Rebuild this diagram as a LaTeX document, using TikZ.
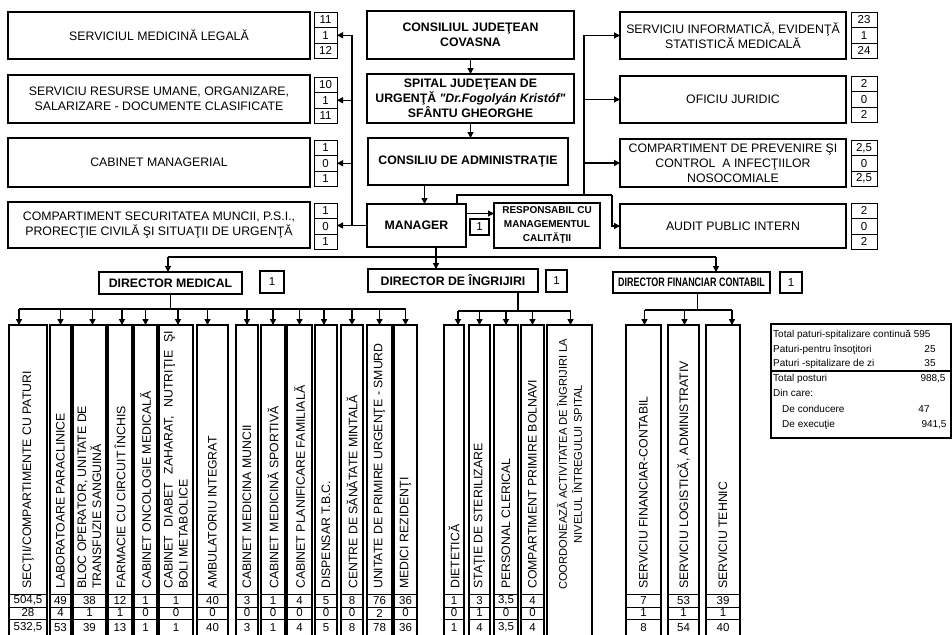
\documentclass[tikz,border=0pt]{standalone}
\usepackage{fontspec}
\usepackage{graphicx}
\setmainfont{Liberation Sans}
\usetikzlibrary{arrows.meta,calc}
\newcommand{\fontMain}{\fontsize{12.3}{15}\selectfont}
\newcommand{\fontNum}{\fontsize{11.5}{12}\selectfont}
\newcommand{\fontSmallB}{\fontsize{10}{14}\selectfont\bfseries}
\newcommand{\fontTab}{\fontsize{10}{12}\selectfont}
\tikzset{
  bx/.style={draw, line width=2pt, inner sep=1pt, outer sep=0pt, align=center, font=\fontMain},
  bxb/.style={bx, font=\fontMain\bfseries},
  bxs/.style={bx, font=\fontSmallB},
  cell/.style={draw, line width=0.9pt, inner sep=0pt, outer sep=0pt, font=\fontNum},
  cellb/.style={cell, line width=1.3pt},
  col/.style={draw, line width=1.6pt, inner sep=0pt, outer sep=0pt},
  rot/.style={rotate=90, anchor=west, align=left, inner sep=0pt, font=\fontMain},
  tx/.style={inner sep=0pt, font=\fontTab},
  ln/.style={line width=1.4pt},
  arr/.style={line width=1.4pt, -{Triangle[length=6pt,width=6pt]}},
}
% \rbox{name}{x1}{y1}{x2}{y2}{style}{text}
\newcommand{\rbox}[7]{\node[#6, minimum width={((#4)-(#2))*1pt}, minimum height={((#5)-(#3))*1pt}] (#1) at ({((#2)+(#4))/2},{((#3)+(#5))/2}) {#7};}
% \trio{name}{x1}{x2}{y0}{a}{b}{c}
\newcommand{\trio}[7]{%
  \rbox{#1a}{#2}{#4}{#3}{(#4)+15.5}{cell}{#5}
  \rbox{#1b}{#2}{(#4)+15.5}{#3}{(#4)+31}{cell}{#6}
  \rbox{#1c}{#2}{(#4)+31}{#3}{(#4)+46}{cell}{#7}}
% \mcol{name}{x1}{x2}{text}{a}{b}{c}
\newcommand{\mcol}[7]{%
  \rbox{#1}{#2}{325}{#3}{645}{col}{}
  \node[rot] (#1t) at ({((#2)+(#3))/2},589) {#4};
  \rbox{#1a}{#2}{594}{#3}{607}{cell}{#5}
  \rbox{#1b}{#2}{607}{#3}{619}{cell}{#6}
  \rbox{#1c}{#2}{619}{#3}{636}{cell}{#7}}
\newcommand{\drop}[3]{\draw[arr] ([xshift=#3]#1.north |- #2) -- ([xshift=#3]#1.north);}
\begin{document}
\begin{tikzpicture}[x=1pt,y=-1pt]
\useasboundingbox (0,0) rectangle (952,634);
\clip (0,0) rectangle (952,634);
\fill[white] (0,0) rectangle (952,634);

% ---------- left boxes
\rbox{L1}{8}{12}{310}{59}{bx}{SERVICIUL MEDICINĂ LEGALĂ}
\trio{L1}{314}{337}{12}{11}{1}{12}
\rbox{L2}{8}{75}{310}{123}{bx}{SERVICIU RESURSE UMANE, ORGANIZARE,\\SALARIZARE - DOCUMENTE CLASIFICATE}
\trio{L2}{314}{337}{77}{10}{1}{11}
\rbox{L3}{8}{138}{310}{187}{bx}{CABINET MANAGERIAL}
\trio{L3}{314}{337}{140}{1}{0}{1}
\rbox{L4}{8}{202}{310}{248}{bx}{COMPARTIMENT SECURITATEA MUNCII, P.S.I.,\\PRORECŢIE CIVILĂ ŞI SITUAŢII DE URGENŢĂ}
\trio{L4}{314}{337}{203}{1}{0}{1}

% ---------- centre
\rbox{cjc}{367}{11}{574}{59}{bxb}{CONSILIUL JUDEŢEAN\\COVASNA}
\rbox{spt}{367}{74}{574}{123}{bxb}{SPITAL JUDEŢEAN DE\\URGENŢĂ \textit{\textquotedbl Dr.Fogolyán Kristóf\textquotedbl}\\SFÂNTU GHEORGHE}
\rbox{cda}{368}{138}{568}{185}{bxb}{CONSILIU DE ADMINISTRAŢIE}
\rbox{mgr}{367}{204}{466}{247}{bxb}{MANAGER}
\rbox{resp}{494}{203}{600}{248}{bxs}{RESPONSABIL CU\\MANAGEMENTUL\\CALITĂŢII}
\rbox{resp1}{470}{219}{489}{235}{cellb}{1}

% ---------- right boxes
\rbox{R1}{620}{12}{846}{59}{bx}{SERVICIU INFORMATICĂ, EVIDENŢĂ\\STATISTICĂ MEDICALĂ}
\trio{R1}{851}{877}{12}{23}{1}{24}
\rbox{R2}{620}{76}{846}{123}{bx}{OFICIU JURIDIC}
\trio{R2}{851}{877}{76}{2}{0}{2}
\rbox{R3}{620}{139}{846}{187}{bx}{COMPARTIMENT DE PREVENIRE ŞI\\CONTROL\ \ A INFECŢIILOR\\NOSOCOMIALE}
\trio{R3}{851}{877}{140}{2,5}{0}{2,5}
\rbox{R4}{620}{204}{846}{248}{bx}{AUDIT PUBLIC INTERN}
\trio{R4}{851}{877}{203}{2}{0}{2}

% ---------- connectors top
\draw[arr] (cjc.south) -- (spt.north);
\draw[arr] (spt.south) -- (spt.south |- cda.north);
\draw[arr] ([xshift=8]mgr.north |- cda.south) -- ([xshift=8]mgr.north);
\draw[arr] ([yshift=12]mgr.east) -- ([yshift=12]mgr.east -| resp.west);

\coordinate (lbus) at (352,0);
\draw[arr] (mgr.west) -- (mgr.west -| L4b.east);
\draw[ln] (lbus |- mgr.west) -- (lbus |- L1b.east);
\draw[arr] (lbus |- L1b.east) -- (L1b.east);
\draw[arr] (lbus |- L2b.east) -- (L2b.east);
\draw[arr] (lbus |- L3b.east) -- (L3b.east);

\coordinate (tee) at (457,195);
\coordinate (rc) at (612,195);
\coordinate (rbus) at (584,195);
\draw[ln] (mgr.north -| tee) -- (tee) -- (rc);
\draw[arr] (rc) |- (R4.west);
\draw[ln] (rbus) -- (rbus |- R1.west);
\draw[arr] (rbus |- R1.west) -- (R1.west);
\draw[arr] (rbus |- R2.west) -- (R2.west);
\draw[arr] (rbus |- R3.west) -- (R3.west);

% ---------- directors
\rbox{dm}{99}{272}{242}{294}{bxb}{DIRECTOR MEDICAL}
\rbox{dm1}{260}{271}{284}{293}{cellb}{1}
\rbox{dmi}{368}{269}{538}{292}{bxb}{DIRECTOR DE ÎNGRIJIRI}
\rbox{dmi1}{546}{270}{567}{292}{cellb}{1}
\rbox{df}{613}{272}{770}{293}{bxb}{\scalebox{0.73}[1]{DIRECTOR FINANCIAR CONTABIL}}
\rbox{df1}{780}{272}{802}{293}{cellb}{1}

\coordinate (b1) at (168,257);
\coordinate (b2) at (436,257);
\coordinate (b3) at (716,257);
\draw[ln] (b1) -- (b3);
\draw[arr] (b1) -- (b1 |- dm.north);
\draw[arr] (mgr.south -| b2) -- (b2 |- dmi.north);
\draw[arr] (b3) -- (b3 |- df.north);

% ---------- medical columns
\mcol{m1}{9}{47}{SECŢII/COMPARTIMENTE CU PATURI}{504,5}{28}{532,5}
\mcol{m2}{50}{71}{LABORATOARE PARACLINICE}{49}{4}{53}
\mcol{m3}{73}{106}{BLOC OPERATOR, UNITATE DE\\TRANSFUZIE SANGUINĂ}{38}{1}{39}
\mcol{m4}{108}{132}{FARMACIE CU CIRCUIT ÎNCHIS}{12}{1}{13}
\mcol{m5}{134}{157}{CABINET ONCOLOGIE MEDICALĂ}{1}{0}{1}
\mcol{m6}{159}{193}{\makebox[258pt][s]{CABINET DIABET ZAHARAT, NUTRIŢIE ŞI}\\BOLI METABOLICE}{1}{0}{1}
\mcol{m7}{197}{228}{AMBULATORIU INTEGRAT}{40}{0}{40}
\mcol{m8}{236}{258}{CABINET MEDICINA MUNCII}{3}{0}{3}
\mcol{m9}{261}{285}{CABINET MEDICINĂ SPORTIVĂ}{1}{0}{1}
\mcol{m10}{287}{312}{CABINET PLANIFICARE FAMILIALĂ}{4}{0}{4}
\mcol{m11}{315}{337}{DISPENSAR T.B.C.}{5}{0}{5}
\mcol{m12}{341}{363}{CENTRE DE SĂNĂTATE MINTALĂ}{8}{0}{8}
\mcol{m13}{367}{392}{UNITATE DE PRIMIRE URGENŢE - SMURD}{76}{2}{78}
\mcol{m14}{394}{417}{MEDICI REZIDENŢI}{36}{0}{36}

\coordinate (mb) at (0,309);
\draw[ln] (dm.south) -- (dm.south |- mb);
\draw[ln] ([xshift=-9]m1.north |- mb) -- (m14.north |- mb);
\drop{m1}{mb}{-9}
\drop{m2}{mb}{0}
\drop{m3}{mb}{3}
\drop{m4}{mb}{2}
\drop{m5}{mb}{0}
\drop{m6}{mb}{2}
\drop{m7}{mb}{-5}
\drop{m8}{mb}{0}
\drop{m9}{mb}{0}
\drop{m10}{mb}{0}
\drop{m11}{mb}{-2}
\drop{m12}{mb}{0}
\drop{m13}{mb}{0}
\drop{m14}{mb}{0}

% ---------- nursing columns
\mcol{n1}{444}{464}{DIETETICĂ}{1}{0}{1}
\mcol{n2}{469}{490}{STAŢIE DE STERILIZARE}{3}{1}{4}
\mcol{n3}{494}{518}{PERSONAL CLERICAL}{3,5}{0}{3,5}
\mcol{n4}{521}{544}{COMPARTIMENT PRIMIRE BOLNAVI}{4}{0}{4}
\rbox{n5}{547}{325}{592}{645}{col}{}
\node[rot, align=center, font=\fontsize{11.2}{15}\selectfont] (n5t) at (569.5,590) {COORDONEAZĂ ACTIVITATEA DE ÎNGRIJIRI LA\\NIVELUL ÎNTREGULUI SPITAL};

\coordinate (nb) at (0,311);
\draw[ln] ([xshift=65]dmi.south) -- ([xshift=65]dmi.south |- nb);
\draw[ln] ([xshift=4]n1.north |- nb) -- ([xshift=1]n5.north |- nb);
\drop{n1}{nb}{4}
\drop{n2}{nb}{0}
\drop{n3}{nb}{0}
\drop{n4}{nb}{0}
\drop{n5}{nb}{1}

% ---------- financial columns
\mcol{f1}{626}{661}{SERVICIU FINANCIAR-CONTABIL}{7}{1}{8}
\mcol{f2}{668}{699}{SERVICIU LOGISTICĂ, ADMINISTRATIV}{53}{1}{54}
\mcol{f3}{706}{740}{SERVICIU TEHNIC}{39}{1}{40}

\coordinate (fb) at (0,310);
\draw[ln] ([xshift=6]df.south) -- ([xshift=6]df.south |- fb);
\draw[ln] ([xshift=1]f1.north |- fb) -- ([xshift=9]f3.north |- fb);
\drop{f1}{fb}{1}
\drop{f2}{fb}{1}
\drop{f3}{fb}{9}

% ---------- summary table
\rbox{tbl}{771}{324}{951}{438}{bx}{}
\draw[line width=2pt] (tbl.west |- 0,371) -- (tbl.east |- 0,371);
\node[tx, anchor=base west] (t1) at (773,337) {Total paturi-spitalizare continuă 595};
\node[tx, anchor=base west] (t2) at (773,352) {Paturi-pentru însoţitori};
\node[tx, anchor=base] (t2n) at (930,352) {25};
\node[tx, anchor=base west] (t3) at (773,366) {Paturi -spitalizare de zi};
\node[tx, anchor=base] (t3n) at (930,366) {35};
\node[tx, anchor=base west] (t4) at (773,381) {Total posturi};
\node[tx, anchor=base] (t4n) at (933,381) {988,5};
\node[tx, anchor=base west] (t5) at (773,396) {Din care:};
\node[tx, anchor=base west] (t6) at (782,412) {De conducere};
\node[tx, anchor=base] (t6n) at (924,412) {47};
\node[tx, anchor=base west] (t7) at (782,427) {De execuţie};
\node[tx, anchor=base] (t7n) at (934,427) {941,5};
\end{tikzpicture}
\end{document}
